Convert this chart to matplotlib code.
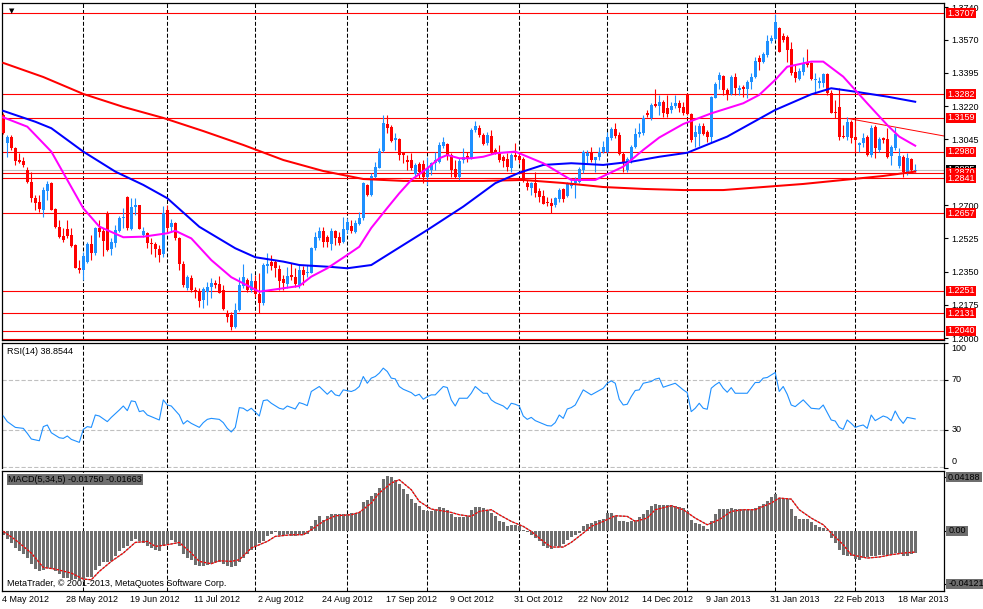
import numpy as np
import matplotlib.pyplot as plt
from matplotlib.patches import Rectangle
from matplotlib.transforms import blended_transform_factory

plt.rcParams['font.family'] = ['Liberation Sans', 'DejaVu Sans']

# EURUSD daily bars, 4 May 2012 .. 21 Mar 2013
opens = [
    1.3174, 1.3026, 1.3058, 1.3000, 1.2937, 1.2932, 1.2885, 1.2821, 1.2737, 1.2716,
    1.2674, 1.2774, 1.2816, 1.2680, 1.2585, 1.2538, 1.2574, 1.2543, 1.2490, 1.2370,
    1.2359, 1.2401, 1.2496, 1.2448, 1.2580, 1.2564, 1.2658, 1.2469, 1.2501, 1.2564,
    1.2632, 1.2743, 1.2574, 1.2690, 1.2701, 1.2543, 1.2553, 1.2501, 1.2496, 1.2469,
    1.2443, 1.2674, 1.2585, 1.2606, 1.2527, 1.2391, 1.2264, 1.2317, 1.2254, 1.2243,
    1.2201, 1.2243, 1.2270, 1.2291, 1.2285, 1.2254, 1.2128, 1.2122, 1.2059, 1.2149,
    1.2275, 1.2306, 1.2254, 1.2301, 1.2233, 1.2185, 1.2380, 1.2401, 1.2401, 1.2364,
    1.2312, 1.2285, 1.2333, 1.2322, 1.2280, 1.2359, 1.2343, 1.2343, 1.2475, 1.2527,
    1.2564, 1.2532, 1.2496, 1.2564, 1.2532, 1.2506, 1.2569, 1.2590, 1.2559, 1.2601,
    1.2632, 1.2806, 1.2753, 1.2848, 1.2895, 1.2984, 1.3126, 1.3110, 1.3042, 1.3047,
    1.2974, 1.2937, 1.2937, 1.2863, 1.2916, 1.2916, 1.2848, 1.2885, 1.2921, 1.2927,
    1.3011, 1.3021, 1.2963, 1.2890, 1.2848, 1.2937, 1.2958, 1.2948, 1.3095, 1.3105,
    1.3068, 1.3026, 1.3063, 1.2990, 1.2974, 1.2953, 1.2942, 1.2895, 1.2963, 1.2958,
    1.2942, 1.2816, 1.2790, 1.2816, 1.2774, 1.2748, 1.2716, 1.2711, 1.2701, 1.2732,
    1.2785, 1.2748, 1.2800, 1.2816, 1.2821, 1.2885, 1.2958, 1.2979, 1.2937, 1.2953,
    1.2979, 1.2979, 1.3053, 1.3100, 1.3068, 1.2969, 1.2885, 1.2937, 1.3005, 1.3074,
    1.3079, 1.3184, 1.3158, 1.3231, 1.3221, 1.3242, 1.3210, 1.3200, 1.3221, 1.3237,
    1.3216, 1.3284, 1.3179, 1.3058, 1.3074, 1.3116, 1.3084, 1.3058, 1.3263, 1.3358,
    1.3379, 1.3305, 1.3284, 1.3373, 1.3305, 1.3321, 1.3310, 1.3347, 1.3373, 1.3473,
    1.3452, 1.3489, 1.3563, 1.3573, 1.3631, 1.3589, 1.3584, 1.3520, 1.3400, 1.3363,
    1.3400, 1.3452, 1.3447, 1.3358, 1.3342, 1.3342, 1.3389, 1.3289, 1.3189, 1.3216,
    1.3063, 1.3058, 1.3137, 1.3058, 1.3016, 1.3026, 1.3058, 1.2963, 1.3110, 1.2990,
    1.3053, 1.3047, 1.2958, 1.3000, 1.2906, 1.2953, 1.2874, 1.2942, 1.2881,
]
highs = [
    1.3184, 1.3068, 1.3068, 1.3005, 1.2974, 1.2953, 1.2900, 1.2874, 1.2753, 1.2753,
    1.2795, 1.2827, 1.2821, 1.2685, 1.2622, 1.2580, 1.2622, 1.2580, 1.2496, 1.2412,
    1.2454, 1.2506, 1.2543, 1.2585, 1.2622, 1.2580, 1.2669, 1.2527, 1.2595, 1.2643,
    1.2685, 1.2748, 1.2737, 1.2737, 1.2701, 1.2585, 1.2559, 1.2527, 1.2506, 1.2490,
    1.2695, 1.2701, 1.2627, 1.2611, 1.2532, 1.2406, 1.2333, 1.2333, 1.2270, 1.2264,
    1.2270, 1.2296, 1.2317, 1.2306, 1.2327, 1.2280, 1.2149, 1.2138, 1.2185, 1.2322,
    1.2391, 1.2317, 1.2343, 1.2333, 1.2343, 1.2396, 1.2448, 1.2438, 1.2412, 1.2385,
    1.2333, 1.2375, 1.2396, 1.2370, 1.2385, 1.2380, 1.2385, 1.2480, 1.2559, 1.2585,
    1.2585, 1.2543, 1.2580, 1.2569, 1.2559, 1.2637, 1.2632, 1.2622, 1.2622, 1.2664,
    1.2821, 1.2811, 1.2869, 1.2927, 1.3000, 1.3174, 1.3174, 1.3121, 1.3079, 1.3053,
    1.2979, 1.2963, 1.2974, 1.2921, 1.2927, 1.2937, 1.2953, 1.2927, 1.2979, 1.3032,
    1.3058, 1.3026, 1.2974, 1.2937, 1.2948, 1.3000, 1.2979, 1.3105, 1.3142, 1.3121,
    1.3079, 1.3084, 1.3095, 1.3000, 1.3016, 1.2963, 1.2974, 1.2974, 1.3026, 1.2979,
    1.2953, 1.2832, 1.2821, 1.2874, 1.2790, 1.2779, 1.2743, 1.2737, 1.2743, 1.2790,
    1.2790, 1.2821, 1.2842, 1.2848, 1.2900, 1.2990, 1.2990, 1.3005, 1.2953, 1.3005,
    1.3037, 1.3084, 1.3110, 1.3131, 1.3084, 1.2979, 1.2953, 1.3016, 1.3105, 1.3131,
    1.3174, 1.3200, 1.3237, 1.3310, 1.3279, 1.3252, 1.3279, 1.3242, 1.3279, 1.3252,
    1.3242, 1.3289, 1.3184, 1.3121, 1.3131, 1.3131, 1.3095, 1.3273, 1.3347, 1.3400,
    1.3384, 1.3315, 1.3384, 1.3394, 1.3331, 1.3331, 1.3358, 1.3394, 1.3478, 1.3489,
    1.3505, 1.3594, 1.3594, 1.3704, 1.3636, 1.3605, 1.3594, 1.3557, 1.3436, 1.3421,
    1.3478, 1.3520, 1.3452, 1.3394, 1.3373, 1.3394, 1.3394, 1.3305, 1.3252, 1.3315,
    1.3121, 1.3163, 1.3147, 1.3147, 1.3032, 1.3079, 1.3068, 1.3121, 1.3121, 1.3058,
    1.3058, 1.3105, 1.3016, 1.3110, 1.3000, 1.2963, 1.2974, 1.2948, 1.2916,
]
lows = [
    1.3074, 1.2953, 1.2990, 1.2911, 1.2921, 1.2900, 1.2816, 1.2716, 1.2674, 1.2664,
    1.2637, 1.2727, 1.2674, 1.2580, 1.2527, 1.2506, 1.2527, 1.2480, 1.2370, 1.2343,
    1.2306, 1.2396, 1.2412, 1.2438, 1.2532, 1.2433, 1.2459, 1.2438, 1.2480, 1.2559,
    1.2580, 1.2569, 1.2569, 1.2648, 1.2574, 1.2532, 1.2475, 1.2443, 1.2427, 1.2401,
    1.2427, 1.2559, 1.2559, 1.2517, 1.2359, 1.2270, 1.2254, 1.2243, 1.2212, 1.2164,
    1.2159, 1.2175, 1.2212, 1.2264, 1.2238, 1.2149, 1.2086, 1.2043, 1.2054, 1.2143,
    1.2264, 1.2243, 1.2243, 1.2217, 1.2133, 1.2175, 1.2343, 1.2359, 1.2322, 1.2254,
    1.2254, 1.2264, 1.2306, 1.2270, 1.2264, 1.2280, 1.2322, 1.2343, 1.2464, 1.2517,
    1.2480, 1.2480, 1.2464, 1.2490, 1.2490, 1.2501, 1.2553, 1.2553, 1.2553, 1.2595,
    1.2622, 1.2748, 1.2748, 1.2842, 1.2895, 1.2979, 1.3079, 1.3032, 1.2990, 1.2937,
    1.2921, 1.2885, 1.2885, 1.2848, 1.2842, 1.2816, 1.2806, 1.2858, 1.2885, 1.2921,
    1.3000, 1.2937, 1.2848, 1.2842, 1.2832, 1.2921, 1.2927, 1.2942, 1.3084, 1.3058,
    1.3016, 1.3016, 1.2969, 1.2969, 1.2927, 1.2900, 1.2879, 1.2874, 1.2937, 1.2921,
    1.2821, 1.2779, 1.2753, 1.2743, 1.2716, 1.2706, 1.2695, 1.2658, 1.2690, 1.2716,
    1.2716, 1.2743, 1.2790, 1.2737, 1.2816, 1.2869, 1.2921, 1.2927, 1.2874, 1.2937,
    1.2974, 1.2974, 1.3042, 1.3053, 1.2963, 1.2874, 1.2874, 1.2921, 1.3000, 1.3058,
    1.3068, 1.3163, 1.3147, 1.3216, 1.3174, 1.3163, 1.3163, 1.3184, 1.3210, 1.3189,
    1.3174, 1.3174, 1.3032, 1.3005, 1.3011, 1.3068, 1.3032, 1.3032, 1.3263, 1.3310,
    1.3279, 1.3252, 1.3279, 1.3279, 1.3279, 1.3268, 1.3263, 1.3310, 1.3368, 1.3410,
    1.3447, 1.3478, 1.3552, 1.3568, 1.3505, 1.3557, 1.3452, 1.3384, 1.3347, 1.3358,
    1.3384, 1.3426, 1.3358, 1.3294, 1.3315, 1.3321, 1.3279, 1.3184, 1.3158, 1.3042,
    1.3053, 1.3042, 1.3026, 1.2974, 1.2979, 1.3005, 1.2958, 1.2953, 1.2948, 1.2979,
    1.3026, 1.2948, 1.2911, 1.2990, 1.2895, 1.2848, 1.2858, 1.2874, 1.2874,
]
closes = [
    1.3079, 1.3058, 1.3000, 1.2932, 1.2927, 1.2911, 1.2821, 1.2737, 1.2711, 1.2680,
    1.2779, 1.2811, 1.2674, 1.2585, 1.2532, 1.2517, 1.2538, 1.2485, 1.2370, 1.2359,
    1.2433, 1.2496, 1.2448, 1.2580, 1.2559, 1.2511, 1.2464, 1.2506, 1.2569, 1.2632,
    1.2637, 1.2580, 1.2690, 1.2701, 1.2574, 1.2564, 1.2501, 1.2496, 1.2469, 1.2438,
    1.2658, 1.2580, 1.2606, 1.2527, 1.2391, 1.2280, 1.2322, 1.2254, 1.2243, 1.2196,
    1.2259, 1.2270, 1.2291, 1.2280, 1.2238, 1.2154, 1.2112, 1.2059, 1.2149, 1.2280,
    1.2322, 1.2254, 1.2301, 1.2233, 1.2185, 1.2385, 1.2391, 1.2380, 1.2370, 1.2301,
    1.2291, 1.2327, 1.2322, 1.2285, 1.2359, 1.2333, 1.2349, 1.2475, 1.2532, 1.2564,
    1.2506, 1.2506, 1.2564, 1.2527, 1.2501, 1.2574, 1.2611, 1.2564, 1.2606, 1.2632,
    1.2816, 1.2753, 1.2853, 1.2900, 1.2984, 1.3131, 1.3105, 1.3037, 1.3053, 1.2963,
    1.2963, 1.2927, 1.2895, 1.2911, 1.2874, 1.2848, 1.2895, 1.2921, 1.2937, 1.3016,
    1.3032, 1.2963, 1.2885, 1.2848, 1.2932, 1.2953, 1.2942, 1.3095, 1.3116, 1.3068,
    1.3021, 1.3068, 1.2979, 1.2974, 1.2937, 1.2932, 1.2900, 1.2963, 1.2953, 1.2937,
    1.2827, 1.2795, 1.2816, 1.2764, 1.2743, 1.2706, 1.2711, 1.2695, 1.2737, 1.2779,
    1.2732, 1.2811, 1.2816, 1.2837, 1.2890, 1.2979, 1.2974, 1.2937, 1.2953, 1.2979,
    1.3005, 1.3058, 1.3100, 1.3063, 1.2969, 1.2927, 1.2942, 1.3005, 1.3074, 1.3084,
    1.3158, 1.3174, 1.3226, 1.3221, 1.3242, 1.3184, 1.3179, 1.3221, 1.3237, 1.3210,
    1.3184, 1.3179, 1.3042, 1.3084, 1.3116, 1.3074, 1.3058, 1.3268, 1.3336, 1.3384,
    1.3305, 1.3279, 1.3373, 1.3315, 1.3315, 1.3310, 1.3347, 1.3373, 1.3457, 1.3452,
    1.3494, 1.3563, 1.3578, 1.3662, 1.3505, 1.3568, 1.3515, 1.3394, 1.3368, 1.3405,
    1.3447, 1.3436, 1.3363, 1.3363, 1.3352, 1.3389, 1.3289, 1.3184, 1.3184, 1.3058,
    1.3058, 1.3137, 1.3053, 1.3042, 1.3026, 1.3053, 1.2963, 1.3105, 1.3000, 1.3047,
    1.3042, 1.2953, 1.3005, 1.3074, 1.2958, 1.2874, 1.2948, 1.2885, 1.2886,
]

# moving averages (bar index, price)
ma_fast_bars = [0, 6, 12, 16, 20, 24, 30, 35, 41, 43, 47, 52, 57, 64, 68, 74, 77, 81, 86, 89,
                92, 96, 99, 102, 106, 109, 111, 114, 117, 120, 123, 128, 135, 142, 148, 155,
                160, 164, 170, 177, 185, 189, 193, 196, 202, 205, 210, 216, 221, 224, 228]
ma_fast = [1.3161, 1.3112, 1.2981, 1.2832, 1.2683, 1.2587, 1.2531, 1.2534, 1.2552, 1.2565,
           1.2525, 1.2411, 1.2321, 1.2245, 1.2257, 1.2275, 1.2324, 1.2368, 1.2438, 1.2481,
           1.2580, 1.2685, 1.2762, 1.2832, 1.2893, 1.2946, 1.2963, 1.2946, 1.2946, 1.2954,
           1.2972, 1.2981, 1.2920, 1.2832, 1.2832, 1.2902, 1.2990, 1.3055, 1.3126, 1.3182,
           1.3235, 1.3279, 1.3358, 1.3427, 1.3454, 1.3454, 1.3375, 1.3235, 1.3121, 1.3060,
           1.3012]
ma_mid_bars = [0, 8, 12, 20, 28, 35, 41, 49, 58, 63, 70, 74, 82, 86, 92, 98, 106, 115, 123,
               129, 135, 142, 150, 157, 164, 171, 181, 193, 202, 207, 213, 221, 228]
ma_mid = [1.3195, 1.3138, 1.3104, 1.2981, 1.2876, 1.2806, 1.2736, 1.2586, 1.2473, 1.2426,
          1.2403, 1.2385, 1.2375, 1.2368, 1.2385, 1.2464, 1.2569, 1.2692, 1.2815, 1.2870,
          1.2911, 1.2920, 1.2911, 1.2928, 1.2954, 1.2975, 1.3060, 1.3200, 1.3282, 1.3314,
          1.3296, 1.3270, 1.3243]
ma_slow_bars = [0, 10, 20, 30, 40, 50, 60, 70, 80, 90, 100, 110, 120, 130, 140, 150, 160,
                170, 180, 190, 200, 210, 220, 228]
ma_slow = [1.3447, 1.3373, 1.3284, 1.3216, 1.3158, 1.3089, 1.3016, 1.2937, 1.2879, 1.2837,
           1.2827, 1.2827, 1.2827, 1.2832, 1.2816, 1.2795, 1.2785, 1.2779, 1.2779, 1.2795,
           1.2811, 1.2832, 1.2853, 1.2876]

trend_bars = [211, 235.5]
trend_prices = [1.3156, 1.3062]

levels = [1.3707, 1.3282, 1.3159, 1.2980, 1.2870, 1.2841, 1.2657, 1.2251, 1.2131, 1.2040]
bottom_level = 1.1998
bid = 1.2885
price_ticks = [1.3740, 1.3570, 1.3395, 1.3220, 1.3045, 1.2700, 1.2525, 1.2350,
               1.2175, 1.2000]

# RSI(14)
rsi_bars = [0, 1, 3, 5, 6, 7, 9, 10, 11, 12, 14, 15, 16, 17, 19, 20, 21, 22, 23, 24, 26, 27,
            29, 30, 31, 32, 33, 34, 35, 36, 37, 39, 40, 41, 42, 44, 45, 46, 47, 49, 50, 51,
            52, 54, 55, 56, 57, 58, 59, 60, 61, 62, 64, 65, 66, 67, 69, 70, 71, 73, 74, 75,
            76, 77, 79, 81, 82, 83, 84, 85, 87, 88, 89, 90, 91, 92, 93, 94, 95, 96, 97, 98,
            99, 100, 102, 103, 104, 105, 106, 107, 108, 110, 111, 112, 113, 114, 116, 117,
            118, 120, 121, 122, 123, 125, 126, 127, 128, 129, 130, 131, 132, 133, 135, 136,
            137, 138, 139, 140, 141, 142, 143, 145, 147, 148, 150, 151, 152, 153, 154, 155,
            156, 157, 158, 159, 160, 162, 163, 164, 165, 166, 168, 170, 171, 172, 173, 174,
            175, 176, 177, 178, 179, 180, 181, 182, 183, 185, 186, 188, 189, 190, 191, 193,
            194, 195, 196, 197, 198, 199, 200, 202, 204, 205, 207, 208, 209, 210, 211, 212,
            213, 214, 215, 216, 217, 218, 220, 221, 222, 223, 224, 225, 226, 228]
rsi_vals = [41.2, 36.7, 32.1, 31.3, 27.3, 22.8, 21.4, 32.7, 34.0, 27.8, 23.8, 23.3, 25.2,
            22.5, 20.1, 30.5, 32.7, 32.1, 42.0, 41.2, 36.7, 40.1, 46.0, 49.2, 45.5, 53.3,
            52.7, 44.7, 45.5, 42.0, 40.7, 38.0, 54.1, 50.0, 49.2, 42.0, 34.8, 37.5, 35.3,
            32.1, 35.9, 38.5, 39.3, 38.5, 35.9, 31.3, 28.4, 32.1, 47.9, 47.4, 45.2, 47.4,
            41.2, 53.5, 54.1, 51.4, 47.4, 46.6, 49.2, 46.8, 51.9, 50.9, 49.5, 60.8, 64.8,
            58.6, 61.6, 58.1, 57.3, 62.1, 60.8, 62.1, 64.8, 72.8, 67.4, 71.5, 72.8, 75.5,
            79.5, 76.8, 71.5, 70.9, 64.8, 62.6, 59.9, 57.3, 58.6, 54.6, 56.7, 58.1, 58.1,
            64.8, 64.0, 54.1, 49.2, 55.4, 55.4, 59.4, 64.8, 59.4, 59.4, 54.1, 51.9, 49.2,
            46.6, 51.4, 50.6, 49.2, 41.2, 38.5, 40.1, 37.5, 34.8, 33.5, 33.2, 35.9, 42.0,
            39.3, 46.8, 47.9, 50.0, 62.1, 58.1, 59.9, 63.4, 67.4, 69.3, 67.4, 54.6, 50.0,
            50.6, 56.7, 61.6, 62.1, 67.4, 68.8, 70.7, 71.5, 64.2, 65.3, 67.4, 62.1, 59.9,
            44.7, 47.4, 51.4, 47.4, 46.6, 63.4, 66.1, 68.2, 63.4, 60.2, 63.9, 59.4, 59.4,
            59.4, 68.0, 68.0, 71.5, 72.0, 76.0, 60.8, 64.8, 58.6, 50.0, 48.7, 51.4, 54.1,
            47.4, 46.8, 50.0, 38.0, 37.2, 32.1, 30.5, 38.0, 35.3, 32.1, 33.2, 34.0, 31.3,
            42.0, 37.5, 41.2, 40.1, 37.5, 45.2, 39.3, 35.3, 40.1, 38.85]

# MACD(5,34,5): histogram one value per bar, signal line read at points
macd_hist = [
    -0.0031, -0.0065, -0.0096, -0.0135, -0.0161, -0.0179, -0.0213, -0.0257, -0.0299, -0.0317,
    -0.0304, -0.0291, -0.0299, -0.0317, -0.0335, -0.0369, -0.0369, -0.0382, -0.0377, -0.0382,
    -0.0377, -0.0361, -0.0361, -0.0304, -0.0278, -0.0247, -0.0247, -0.0239, -0.0200, -0.0161,
    -0.0135, -0.0122, -0.0083, -0.0065, -0.0078, -0.0096, -0.0122, -0.0135, -0.0153, -0.0161,
    -0.0117, -0.0101, -0.0070, -0.0091, -0.0122, -0.0179, -0.0213, -0.0231, -0.0265, -0.0273,
    -0.0273, -0.0265, -0.0252, -0.0247, -0.0247, -0.0257, -0.0273, -0.0283, -0.0273, -0.0247,
    -0.0213, -0.0179, -0.0148, -0.0122, -0.0096, -0.0083, -0.0044, -0.0023, -0.0013, -0.0031,
    -0.0031, -0.0023, -0.0039, -0.0044, -0.0031, -0.0031, -0.0023, 0.0034, 0.0081, 0.0112,
    0.0086, 0.0117, 0.0127, 0.0127, 0.0127, 0.0127, 0.0133, 0.0138, 0.0138, 0.0143,
    0.0221, 0.0237, 0.0268, 0.0294, 0.0333, 0.0403, 0.0424, 0.0419, 0.0393, 0.0367,
    0.0328, 0.0286, 0.0247, 0.0216, 0.0190, 0.0164, 0.0151, 0.0151, 0.0164, 0.0185,
    0.0177, 0.0159, 0.0133, 0.0104, 0.0104, 0.0104, 0.0112, 0.0159, 0.0182, 0.0182,
    0.0177, 0.0164, 0.0138, 0.0112, 0.0073, 0.0065, 0.0039, 0.0042, 0.0042, 0.0034,
    0.0008, -0.0013, -0.0031, -0.0057, -0.0083, -0.0122, -0.0135, -0.0143, -0.0122, -0.0127,
    -0.0101, -0.0070, -0.0049, -0.0031, -0.0018, 0.0034, 0.0052, 0.0060, 0.0073, 0.0081,
    0.0094, 0.0138, 0.0138, 0.0112, 0.0078, 0.0073, 0.0065, 0.0073, 0.0086, 0.0107,
    0.0130, 0.0164, 0.0190, 0.0208, 0.0198, 0.0198, 0.0198, 0.0198, 0.0190, 0.0182,
    0.0177, 0.0151, 0.0086, 0.0060, 0.0055, 0.0039, 0.0016, 0.0073, 0.0133, 0.0169,
    0.0169, 0.0169, 0.0177, 0.0169, 0.0169, 0.0169, 0.0159, 0.0164, 0.0177, 0.0190,
    0.0211, 0.0234, 0.0263, 0.0286, 0.0255, 0.0255, 0.0247, 0.0172, 0.0112, 0.0091,
    0.0091, 0.0091, 0.0065, 0.0047, 0.0026, 0.0021, 0.0008, -0.0057, -0.0096, -0.0153,
    -0.0187, -0.0195, -0.0200, -0.0221, -0.0231, -0.0213, -0.0205, -0.0195, -0.0195, -0.0187,
    -0.0187, -0.0187, -0.0179, -0.0174, -0.0174, -0.0195, -0.0195, -0.0185, -0.0175,
]
macd_sig_bars = [0, 3, 7, 10, 13, 17, 20, 22, 24, 27, 30, 33, 36, 38, 41, 44, 47, 49, 52, 54,
                 57, 59, 62, 66, 68, 72, 75, 77, 80, 83, 87, 89, 92, 94, 97, 99, 102, 104, 107,
                 109, 112, 114, 117, 119, 122, 124, 127, 130, 132, 135, 137, 140, 142, 145,
                 147, 150, 153, 156, 158, 161, 163, 167, 170, 173, 176, 179, 182, 185, 188,
                 192, 194, 197, 199, 202, 205, 207, 210, 212, 216, 219, 222, 225, 228]
macd_sig = [-0.0005, -0.0070, -0.0174, -0.0286, -0.0299, -0.0330, -0.0377, -0.0382, -0.0317,
            -0.0239, -0.0174, -0.0091, -0.0083, -0.0122, -0.0109, -0.0091, -0.0174, -0.0239,
            -0.0257, -0.0234, -0.0239, -0.0226, -0.0135, -0.0083, -0.0044, -0.0031, -0.0031,
            0.0008, 0.0073, 0.0117, 0.0125, 0.0143, 0.0216, 0.0294, 0.0372, 0.0398, 0.0320,
            0.0229, 0.0169, 0.0159, 0.0143, 0.0125, 0.0112, 0.0151, 0.0164, 0.0125, 0.0073,
            0.0034, -0.0005, -0.0083, -0.0127, -0.0127, -0.0091, -0.0018, 0.0034, 0.0073,
            0.0117, 0.0112, 0.0073, 0.0099, 0.0164, 0.0195, 0.0164, 0.0099, 0.0047, 0.0086,
            0.0151, 0.0164, 0.0164, 0.0216, 0.0255, 0.0247, 0.0164, 0.0099, 0.0047, -0.0018,
            -0.0109, -0.0187, -0.0213, -0.0205, -0.0187, -0.0174, -0.0166]
macd_scale = [0.04188, 0.0, -0.04121]
macd_scale_text = ['0.04188', '0.00', '-0.04121']

month_start_bars = [20, 41, 63, 86, 106, 129, 151, 171, 193, 213]
date_labels = ["4 May 2012", "28 May 2012", "19 Jun 2012", "11 Jul 2012", "2 Aug 2012",
               "24 Aug 2012", "17 Sep 2012", "9 Oct 2012", "31 Oct 2012", "22 Nov 2012",
               "14 Dec 2012", "9 Jan 2013", "31 Jan 2013", "22 Feb 2013", "18 Mar 2013"]
date_label_bars = [0, 16, 32, 48, 64, 80, 96, 112, 128, 144, 160, 176, 192, 208, 224]

BULL = '#1E90FF'
BEAR = '#FF0000'
HIST = '#6E6E6E'
FS = 6.5

W, H = 983, 609
fig = plt.figure(figsize=(W / 100, H / 100), dpi=100)


def pane(top, bottom):
    a = fig.add_axes([2 / W, 1 - bottom / H, 942 / W, (bottom - top) / H])
    a.set_xlim(-0.33, 235.2)
    a.tick_params(axis='x', bottom=False, labelbottom=False)
    a.tick_params(axis='y', left=False, labelleft=False, right=True, labelright=True,
                  length=3, width=0.8, labelsize=FS, pad=2)
    for s in a.spines.values():
        s.set_linewidth(0.9)
    return a


ax = pane(3, 340)
ax_rsi = pane(342.5, 467.5)
ax_macd = pane(470.5, 590.5)


def tag(a, y, text, fc, tc, px_per_unit, z, width_px=30):
    # coloured price box sitting on the right-hand scale
    tr = a.get_yaxis_transform()
    hh = 10 / px_per_unit
    wf = width_px / 942
    a.add_patch(Rectangle((1.002, y - hh / 2), wf, hh, transform=tr, fc=fc, ec='none',
                          clip_on=False, zorder=z))
    a.text(1.002 + wf / 2, y, text, transform=tr, ha='center', va='center', color=tc,
           fontsize=FS, clip_on=False, zorder=z + 0.5)


# ---- price pane ----
ax.set_ylim(1.1991, 1.3762)
price_px = 337 / (1.3762 - 1.1991)
x = np.arange(len(closes))
o = np.array(opens)
h = np.array(highs)
l = np.array(lows)
c = np.array(closes)
cols = np.where(c >= o, BULL, BEAR)
ax.vlines(x, l, h, colors=cols, lw=0.8, zorder=3)
ax.bar(x, np.maximum(np.abs(c - o), 0.0005), bottom=np.minimum(o, c), width=0.75,
       color=cols, lw=0, zorder=3)

for p in levels + [bottom_level]:
    ax.axhline(p, color='red', lw=0.8, zorder=2)
ax.axhline(bid, color='#C0C0C0', lw=0.8, zorder=1.9)
ax.plot(trend_bars, trend_prices, color='red', lw=0.7, zorder=2)

ax.plot(ma_slow_bars, ma_slow, color='#FF0000', lw=1.45, zorder=4)
ax.plot(ma_mid_bars, ma_mid, color='#0000FF', lw=1.45, zorder=4)
ax.plot(ma_fast_bars, ma_fast, color='#FF00FF', lw=1.45, zorder=4)

ax.set_yticks(price_ticks)
ax.set_yticklabels([f'{t:.4f}' for t in price_ticks])

tags = sorted([(p, f'{p:.4f}', 'red', 'white') for p in levels] +
              [(bid, f'{bid:.4f}', 'black', 'white')], reverse=True)
for i, (p, txt, fc, tc) in enumerate(tags):
    tag(ax, p, txt, fc, tc, price_px, 5 + i)

ax.text(7 / 942, 1 - 8 / 337, '\u25bc', transform=ax.transAxes, fontsize=5,
        va='center', ha='left', family=['DejaVu Sans'])

# ---- RSI pane ----
ax_rsi.set_ylim(0, 100)
ax_rsi.plot(rsi_bars, rsi_vals, color=BULL, lw=0.8, zorder=3)
for lv in (70, 30):
    ax_rsi.axhline(lv, color='#C0C0C0', lw=0.8, ls=(0, (3.8, 1.9)), zorder=1)
ax_rsi.axhline(0.4, color='#C0C0C0', lw=0.8, ls=(0, (3.8, 1.9)), zorder=1)
ax_rsi.spines['bottom'].set_visible(False)
ax_rsi.set_yticks([0, 30, 70, 100])
ax_rsi.set_yticklabels([])
rtr = ax_rsi.get_yaxis_transform()
for val, pos in ((100, 95), (70, 70), (30, 30), (0, 5)):
    ax_rsi.text(1.008, pos, str(val), transform=rtr, ha='left', va='center', fontsize=FS,
                clip_on=False)
ax_rsi.text(5 / 942, 1 - 8.5 / 125, 'RSI(14) 38.8544', transform=ax_rsi.transAxes,
            ha='left', va='center', fontsize=FS)

# ---- MACD pane ----
ax_macd.set_ylim(-0.0466, 0.0470)
macd_px = 120 / (0.0470 + 0.0466)
ax_macd.bar(x, macd_hist, width=0.75, color=HIST, lw=0, zorder=2)
ax_macd.plot(macd_sig_bars, macd_sig, color='#808080', lw=0.8, zorder=3)
ax_macd.plot(macd_sig_bars, macd_sig, color='red', lw=0.9, ls=(0, (2, 1)), zorder=3)
ax_macd.set_yticks(macd_scale)
ax_macd.set_yticklabels([])
for v, txt in zip(macd_scale, macd_scale_text):
    tag(ax_macd, v, txt, HIST, 'black', macd_px, 5, width_px=4.8 * len(txt) + 3)
ax_macd.text(6 / 942, 1 - 9 / 120, 'MACD(5,34,5) -0.01750 -0.01663',
             transform=ax_macd.transAxes, ha='left', va='center', fontsize=FS, color='black',
             bbox=dict(boxstyle='square,pad=0.12', fc=HIST, ec='none'))
ax_macd.text(5 / 942, 6.5 / 120, 'MetaTrader, \u00a9 2001-2013, MetaQuotes Software Corp.',
             transform=ax_macd.transAxes, ha='left', va='center', fontsize=FS)

# month separators across all panes
for a in (ax, ax_rsi, ax_macd):
    for b in month_start_bars:
        a.axvline(b, color='black', lw=0.75, ls=(0, (3.8, 1.9)), zorder=1)

# date labels under the bottom pane
dtr = blended_transform_factory(ax_macd.transData, ax_macd.transAxes)
for b, lab in zip(date_label_bars, date_labels):
    ax_macd.text(b - 0.3, -4 / 120, lab, transform=dtr, ha='left', va='top', fontsize=FS,
                 clip_on=False)

fig.savefig('out.png', dpi=100, facecolor='white')
